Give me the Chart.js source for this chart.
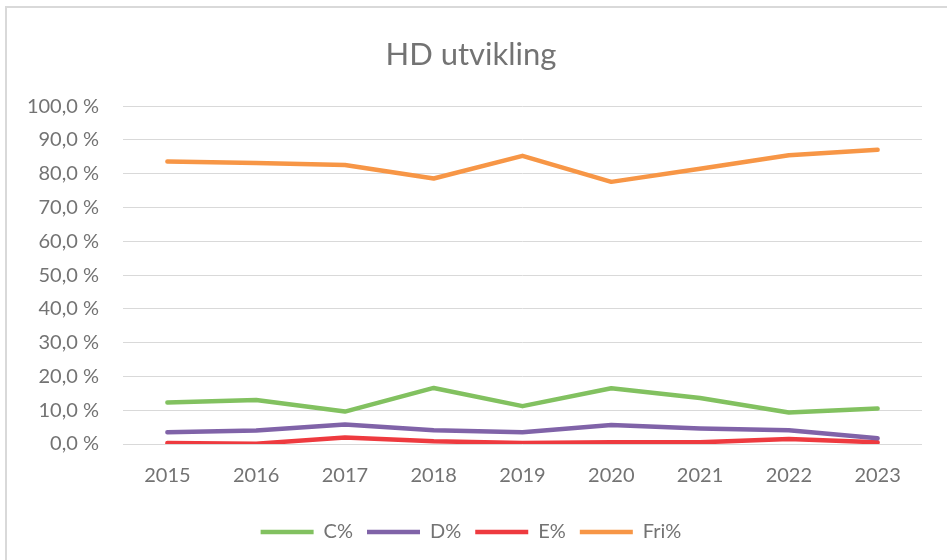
<!DOCTYPE html>
<html>
<head>
<meta charset="utf-8">
<script src="https://cdn.jsdelivr.net/npm/chart.js@4"></script>
<style>
  html, body { margin: 0; padding: 0; background: #fff; }
  #wrap { position: relative; width: 947px; height: 560px; overflow: hidden; }
  #frame { position: absolute; left: 5px; top: 6px; width: 960px; height: 600px;
           border-top: 2px solid #d9d9d9; border-left: 2px solid #d9d9d9; }
  canvas { position: absolute; left: 0; top: 0; }
</style>
</head>
<body>
<div id="wrap">
  <div id="frame"></div>
  <canvas id="canvas" width="947" height="560"></canvas>
</div>
<script>
const years = ['2015', '2016', '2017', '2018', '2019', '2020', '2021', '2022', '2023']
const cPct = [12.3, 13.0, 9.6, 16.6, 11.2, 16.5, 13.6, 9.3, 10.5]
const dPct = [3.5, 4.0, 5.8, 4.1, 3.5, 5.6, 4.6, 4.1, 1.7]
const ePct = [0.3, 0.1, 1.9, 0.8, 0.3, 0.5, 0.5, 1.5, 0.5]
const friPct = [83.6, 83.2, 82.6, 78.6, 85.3, 77.6, 81.5, 85.5, 87.1]

const textColor = '#737373'
const fontFamily = 'Lato, "Open Sans", sans-serif'

function line(label, data, color) {
    return {
        label: label,
        data: data,
        borderColor: color,
        backgroundColor: color,
        borderWidth: 4.5,
        borderCapStyle: 'round',
        borderJoinStyle: 'round',
        pointRadius: 0,
        pointHoverRadius: 0,
        tension: 0,
    }
}

const chart = new Chart(document.getElementById('canvas').getContext('2d'), {
    type: 'line',
    data: {
        labels: years,
        datasets: [
            line('C%', cPct, '#82c160'),
            line('D%', dPct, '#8063a8'),
            line('E%', ePct, '#ee3a3f'),
            line('Fri%', friPct, '#f79646'),
        ],
    },
    options: {
        responsive: false,
        animation: false,
        layout: {
            padding: {left: 20, right: 25, top: 7, bottom: 8},
        },
        plugins: {
            title: {
                display: true,
                text: 'HD utvikling',
                color: textColor,
                font: {family: fontFamily, size: 31, weight: 'normal'},
                padding: {top: 29, bottom: 33},
            },
            legend: {
                position: 'bottom',
                labels: {
                    color: textColor,
                    font: {family: fontFamily, size: 20},
                    usePointStyle: true,
                    pointStyle: 'line',
                    pointStyleWidth: 53,
                    padding: 14,
                },
            },
            tooltip: {enabled: false},
        },
        scales: {
            x: {
                offset: true,
                grid: {display: false, drawTicks: false},
                border: {display: false},
                ticks: {
                    color: textColor,
                    font: {family: fontFamily, size: 20},
                    padding: 20,
                    maxRotation: 0,
                },
            },
            y: {
                min: 0,
                max: 100,
                grid: {color: '#d9d9d9', lineWidth: 1, drawTicks: false},
                border: {display: false},
                ticks: {
                    stepSize: 10,
                    color: textColor,
                    font: {family: fontFamily, size: 20},
                    padding: 24,
                    callback: v => v.toFixed(1).replace('.', ',') + ' %',
                },
                afterFit: s => { s.width = 103 },
            },
        },
    },
})
</script>
</body>
</html>
